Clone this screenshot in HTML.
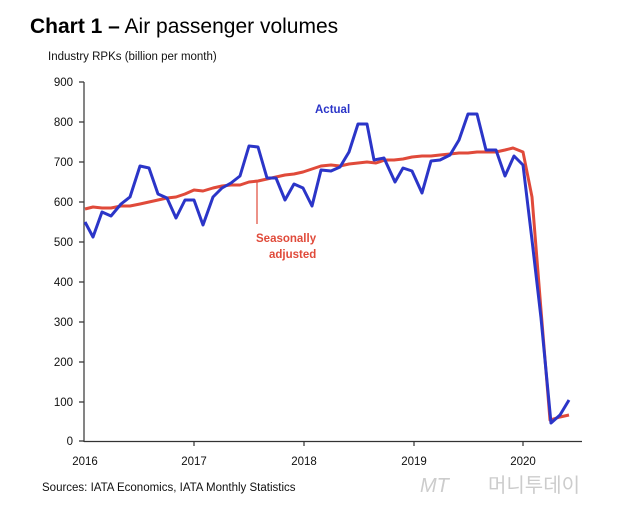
<!DOCTYPE html><html><head><style>body{margin:0;background:#fff}svg{display:block;font-family:"Liberation Sans",Arial,sans-serif}</style></head><body>
<svg width="629" height="508" viewBox="0 0 629 508">
<text x="30" y="33" font-size="21" fill="#000"><tspan font-weight="bold">Chart 1 –</tspan> Air passenger volumes</text>
<text x="48" y="60" font-size="11.5" fill="#111">Industry RPKs (billion per month)</text>
<g stroke="#333" stroke-width="1.2" fill="none">
<line x1="84" y1="82" x2="84" y2="442"/><line x1="84" y1="441.5" x2="582" y2="441.5"/>
<path d="M79 82H84M79 122H84M79 162H84M79 202H84M79 242H84M79 282H84M79 322H84M79 362H84M79 402H84M79 441H84"/>
<path d="M194 441v5M304 441v5M414 441v5M523 441v5"/>
</g>
<g font-size="11.5" fill="#111" text-anchor="end">
<text x="73" y="86">900</text><text x="73" y="126">800</text><text x="73" y="166">700</text><text x="73" y="206">600</text><text x="73" y="246">500</text><text x="73" y="286">400</text><text x="73" y="326">300</text><text x="73" y="366">200</text><text x="73" y="406">100</text><text x="73" y="445">0</text>
</g>
<g font-size="11.5" fill="#111" text-anchor="middle">
<text x="85" y="465">2016</text><text x="194" y="465">2017</text><text x="304" y="465">2018</text><text x="414" y="465">2019</text><text x="523" y="465">2020</text>
</g>
<line x1="257" y1="181" x2="257" y2="224" stroke="#e04a3a" stroke-width="1.2"/>
<polyline fill="none" stroke="#e04a3a" stroke-width="3" stroke-linejoin="round" points="85,209 93,207 102,208 111,208 121,206 130,206 140,204 149,202 158,200 167,198 176,197 185,194 194,190 203,191 213,188 222,186 231,185 240,185 249,182 258,181 267,179 276,177 285,175 294,174 303,172 312,169 321,166 331,165 340,166 349,164 358,163 367,162 376,163 385,160 394,160 403,159 412,157 422,156 431,156 440,155 450,154 459,153 468,153 477,152 486,152 496,152 505,150 513,148 523,152 532,197 541,310 550,420 560,417 569,415"/>
<polyline fill="none" stroke="#2b35c8" stroke-width="3" stroke-linejoin="round" points="85,222 93,237 102,212 111,216 121,204 130,197 140,166 149,168 158,194 167,198 176,218 185,200 194,200 203,225 213,197 222,188 231,183 240,176 249,146 258,147 267,178 276,178 285,200 294,184 303,188 312,206 321,170 331,171 340,167 349,152 358,124 367,124 374,160 384,158 395,182 403,168 412,171 422,193 431,161 440,160 450,155 459,140 468,114 477,114 486,150 496,150 505,176 514,156 523,165 532,240 541,318 551,423 560,415 569,400"/>
<text x="315" y="113" font-size="11.5" font-weight="bold" fill="#2b35c8">Actual</text>
<text x="256" y="242" font-size="11.5" font-weight="bold" fill="#e04a3a">Seasonally</text>
<text x="269" y="258" font-size="11.5" font-weight="bold" fill="#e04a3a">adjusted</text>
<text x="42" y="491" font-size="11.5" fill="#111">Sources: IATA Economics, IATA Monthly Statistics</text>
<text x="420" y="492" font-size="20" fill="#ccc" font-style="italic">MT</text>
<text x="488" y="492" font-size="20" fill="#ccc" font-family="Noto Sans CJK KR, sans-serif">머니투데이</text>
</svg></body></html>
